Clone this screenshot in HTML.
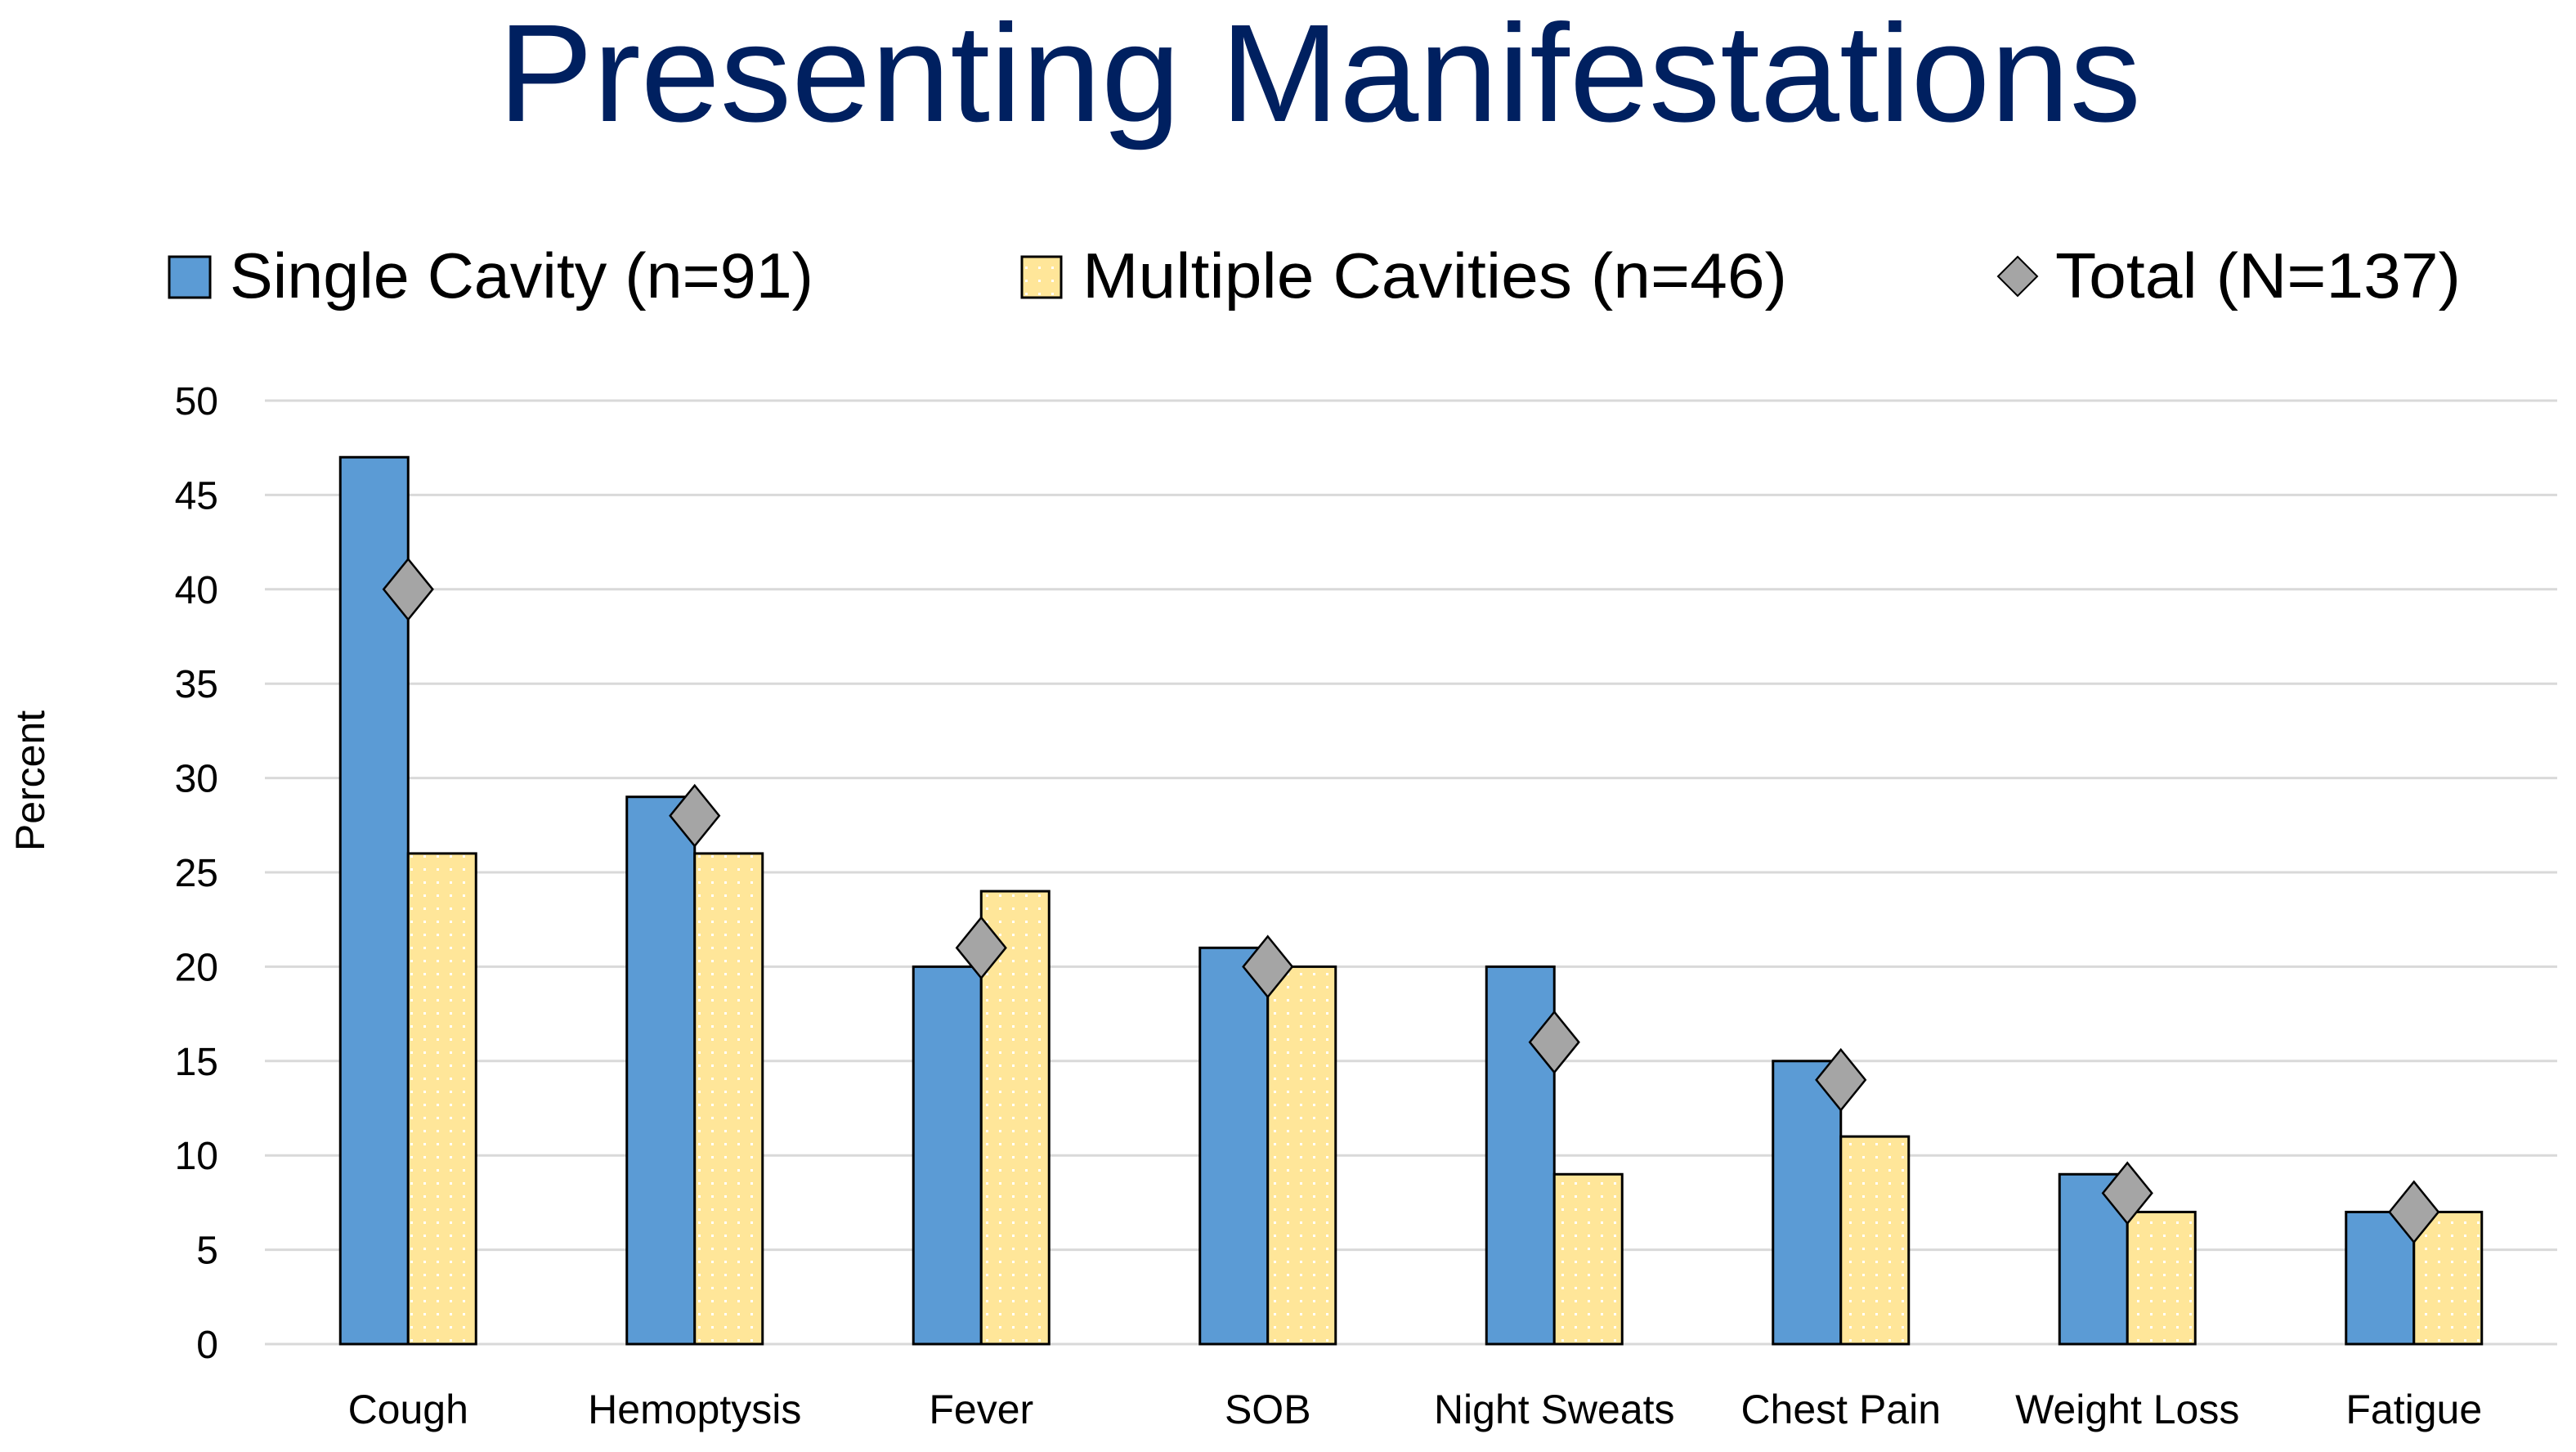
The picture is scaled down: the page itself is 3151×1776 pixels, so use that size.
<!DOCTYPE html>
<html><head><meta charset="utf-8"><style>
html,body{margin:0;padding:0;background:#fff;}
svg{display:block;}
text{font-family:"Liberation Sans",sans-serif;}
</style></head><body>
<svg id="chart" width="3151" height="1776" viewBox="0 0 3151 1776" xmlns="http://www.w3.org/2000/svg">
<defs>
<pattern id="dots" width="16" height="16" patternUnits="userSpaceOnUse">
<rect width="16" height="16" fill="#FFE699"/>
<rect x="6" y="6" width="3" height="3" fill="#ffffff"/>
</pattern>
</defs>
<text x="1614" y="148" text-anchor="middle" font-size="170" fill="#002060" textLength="2010" lengthAdjust="spacingAndGlyphs">Presenting Manifestations</text>
<g>
<g>
<rect x="207" y="314" width="50" height="50" fill="#5B9BD5" stroke="#000" stroke-width="3"/>
<text x="281" y="364" font-size="78" fill="#000" textLength="714" lengthAdjust="spacingAndGlyphs">Single Cavity (n=91)</text>
</g>
<g>
<rect x="1250" y="314" width="48" height="50" fill="url(#dots)" stroke="#000" stroke-width="3"/>
<text x="1324" y="364" font-size="78" fill="#000" textLength="862" lengthAdjust="spacingAndGlyphs">Multiple Cavities (n=46)</text>
</g>
<g>
<polygon points="2468,314 2492,338 2468,362 2444,338" fill="#A5A5A5" stroke="#000" stroke-width="2"/>
<text x="2514" y="364" font-size="78" fill="#000" textLength="496" lengthAdjust="spacingAndGlyphs">Total (N=137)</text>
</g>
</g>
<text transform="translate(54,955) rotate(-90)" text-anchor="middle" font-size="50" fill="#000">Percent</text>
<g id="grid"></g>
<g id="yticks"></g>
<g id="bars"></g>
<g id="markers"></g>
<g id="xlabels"></g>
</svg>
<script>
const categories = ["Cough","Hemoptysis","Fever","SOB","Night Sweats","Chest Pain","Weight Loss","Fatigue"];
const singleValues = [47,29,20,21,20,15,9,7];
const multipleValues = [26,26,24,20,9,11,7,7];
const totalValues = [40,28,21,20,16,14,8,7];
const yTicks = [0,5,10,15,20,25,30,35,40,45,50];

const NS = "http://www.w3.org/2000/svg";
const plotL = 324, plotR = 3128, y0px = 1644, y50px = 490, yMax = 50;
const step = (plotR - plotL) / categories.length;
const barW = 83;
function yScale(v){ return y0px - (v / yMax) * (y0px - y50px); }
function xCenter(i){ return plotL + step * (i + 0.5); }
function mk(tag, attrs, parent){
  const e = document.createElementNS(NS, tag);
  for (const k in attrs) e.setAttribute(k, attrs[k]);
  parent.appendChild(e); return e;
}
const grid = document.getElementById('grid'), yt = document.getElementById('yticks');
yTicks.forEach(t => {
  const l = mk('line', {x1: plotL, x2: plotR, y1: yScale(t), y2: yScale(t), stroke: '#D9D9D9', 'stroke-width': 3}, grid);
  
  
  const tx = mk('text', {x: 267, y: yScale(t) + 17, 'text-anchor': 'end', 'font-size': 48, fill: '#000'}, yt);
  tx.textContent = t;
  
  
});
const bars = document.getElementById('bars'), mk2 = document.getElementById('markers'), xl = document.getElementById('xlabels');
categories.forEach((c, i) => {
  const cx = xCenter(i);
  const b1 = mk('rect', {x: cx - barW, y: yScale(singleValues[i]), width: barW, height: y0px - yScale(singleValues[i]), fill: '#5B9BD5', stroke: '#000', 'stroke-width': 3}, bars);
  
  
  const b2 = mk('rect', {x: cx, y: yScale(multipleValues[i]), width: barW, height: y0px - yScale(multipleValues[i]), fill: 'url(#dots)', stroke: '#000', 'stroke-width': 3}, bars);
  
  
  const ty = yScale(totalValues[i]);
  const d = mk('polygon', {points: `${cx},${ty-37} ${cx+30},${ty} ${cx},${ty+37} ${cx-30},${ty}`, fill: '#A5A5A5', stroke: '#000', 'stroke-width': 2.5}, mk2);
  
  
  const lbl = mk('text', {x: cx, y: 1741, 'text-anchor': 'middle', 'font-size': 50, fill: '#000'}, xl);
  lbl.textContent = c;
  
  
});
</script>
</body></html>
